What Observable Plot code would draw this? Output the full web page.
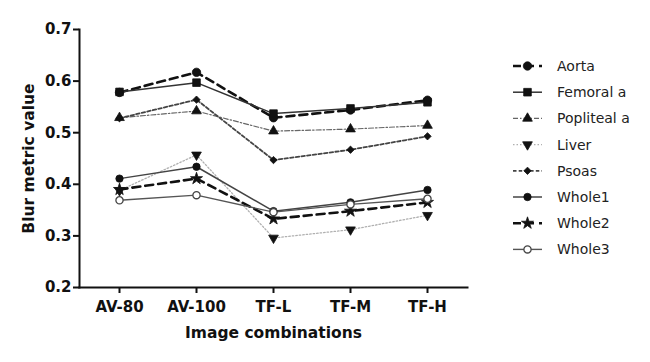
<!DOCTYPE html>
<html>
<head>
<meta charset="utf-8">
<script src="https://cdn.jsdelivr.net/npm/d3@7"></script>
<script src="https://cdn.jsdelivr.net/npm/@observablehq/plot@0.6"></script>
<style>
  html, body { margin: 0; padding: 0; background: #fff; }
  #wrap { position: relative; width: 650px; height: 362px; }
  #chart svg text { font-weight: bold; fill: #111; }
  #legend { position: absolute; left: 505px; top: 53px; }
  #legend text { font-family: "DejaVu Sans", sans-serif; font-size: 14px; fill: #222; }
</style>
</head>
<body>
<div id="wrap">
  <div id="chart"></div>
  <div id="legend"></div>
</div>
<script>
const categories = ["AV-80", "AV-100", "TF-L", "TF-M", "TF-H"];
const seriesNames = ["Aorta", "Femoral a", "Popliteal a", "Liver", "Psoas", "Whole1", "Whole2", "Whole3"];
const aorta     = [0.578, 0.617, 0.529, 0.544, 0.563];
const femoral   = [0.579, 0.597, 0.537, 0.547, 0.559];
const popliteal = [0.529, 0.542, 0.503, 0.507, 0.514];
const liver     = [0.388, 0.457, 0.296, 0.312, 0.340];
const psoas     = [0.528, 0.564, 0.447, 0.467, 0.493];
const whole1    = [0.411, 0.434, 0.348, 0.365, 0.389];
const whole2    = [0.390, 0.411, 0.333, 0.348, 0.365];
const whole3    = [0.369, 0.379, 0.346, 0.361, 0.372];
const yTicks = [0.2, 0.3, 0.4, 0.5, 0.6, 0.7];

const seriesValues = [aorta, femoral, popliteal, liver, psoas, whole1, whole2, whole3];

// custom downward triangle symbol
const triangleDown = {
  draw(context, size) {
    const y = -Math.sqrt(size / (Math.sqrt(3) * 3));
    context.moveTo(0, -y * 2);
    context.lineTo(-Math.sqrt(3) * y, y);
    context.lineTo(Math.sqrt(3) * y, y);
    context.closePath();
  }
};

const styles = [
  {stroke: "#111", width: 2.6, dash: "8,5", symbol: "circle", r: 4.2, fill: "#111"},
  {stroke: "#333", width: 1.5, dash: null, symbol: "square", r: 4.3, fill: "#111"},
  {stroke: "#666", width: 1.2, dash: "5,2,1.5,2", symbol: "triangle", r: 3.6, fill: "#111"},
  {stroke: "#b0b0b0", width: 1.3, dash: "1.5,2", symbol: triangleDown, r: 3.6, fill: "#111"},
  {stroke: "#444", width: 1.8, dash: "3.5,2.2", symbol: "diamond2", r: 3.3, fill: "#111"},
  {stroke: "#444", width: 1.5, dash: null, symbol: "circle", r: 3.7, fill: "#111"},
  {stroke: "#111", width: 2.6, dash: "8,5", symbol: "star", r: 3.8, fill: "#111"},
  {stroke: "#555", width: 1.4, dash: null, symbol: "circle", r: 3.6, fill: "#fff"}
];

const rows = [];
seriesNames.forEach((name, i) => {
  categories.forEach((c, j) => rows.push({series: name, cat: c, value: seriesValues[i][j]}));
});

const marks = [];
seriesNames.forEach((name, i) => {
  const s = styles[i];
  const d = rows.filter(r => r.series === name);
  marks.push(Plot.line(d, {x: "cat", y: "value", stroke: s.stroke, strokeWidth: s.width, strokeDasharray: s.dash}));
});
seriesNames.forEach((name, i) => {
  const s = styles[i];
  const d = rows.filter(r => r.series === name);
  marks.push(Plot.dot(d, {x: "cat", y: "value", symbol: () => s.symbol, r: s.r, fill: s.fill, stroke: s.fill === "#fff" ? "#444" : "#111", strokeWidth: s.fill === "#fff" ? 1.3 : 0.8}));
});

const chart = Plot.plot({
  width: 650,
  height: 362,
  marginLeft: 79,
  marginRight: 183,
  marginTop: 29,
  marginBottom: 75,
  style: {fontFamily: "'DejaVu Sans', sans-serif", background: "#fff", color: "#111"},
  x: {type: "point", domain: categories, padding: 0.5},
  y: {domain: [0.2, 0.7]},
  symbol: {type: "identity"},
  marks: [
    Plot.frame({anchor: "left", stroke: "#111", strokeWidth: 2}),
    Plot.frame({anchor: "bottom", stroke: "#111", strokeWidth: 2}),
    Plot.axisX({tickSize: 6, tickPadding: 8, fontSize: 15, strokeWidth: 2,
      label: "Image combinations", labelAnchor: "center", labelOffset: 50, labelArrow: false}),
    Plot.axisY({ticks: yTicks, tickSize: 6, tickPadding: 2, fontSize: 15, strokeWidth: 2,
      tickFormat: d3.format(".1f"),
      label: "Blur metric value", labelAnchor: "center", labelOffset: 57, labelArrow: false}),
    ...marks
  ]
});
document.getElementById("chart").appendChild(chart);
chart.querySelectorAll("g[aria-label='x-axis label'] text, g[aria-label='y-axis label'] text").forEach(t => t.style.fontSize = "15.5px");

// legend
const lsvg = d3.select("#legend").append("svg").attr("width", 145).attr("height", 215);
const symMap = {circle: d3.symbolCircle, square: d3.symbolSquare, triangle: d3.symbolTriangle, diamond2: d3.symbolDiamond2, star: d3.symbolStar};
seriesNames.forEach((name, i) => {
  const s = styles[i];
  const g = lsvg.append("g").attr("transform", `translate(0, ${13 + i * 26.2})`);
  g.append("line").attr("x1", 8).attr("x2", 37).attr("y1", 0).attr("y2", 0)
    .attr("stroke", s.stroke).attr("stroke-width", s.width).attr("stroke-dasharray", s.dash);
  const symType = typeof s.symbol === "string" ? symMap[s.symbol] : s.symbol;
  g.append("path").attr("transform", "translate(22.5,0)")
    .attr("d", d3.symbol(symType, Math.PI * s.r * s.r)())
    .attr("fill", s.fill).attr("stroke", s.fill === "#fff" ? "#444" : "#111")
    .attr("stroke-width", s.fill === "#fff" ? 1.3 : 0.8);
  g.append("text").attr("x", 52).attr("y", 0).attr("dy", "0.35em").text(name);
});
</script>
</body>
</html>
